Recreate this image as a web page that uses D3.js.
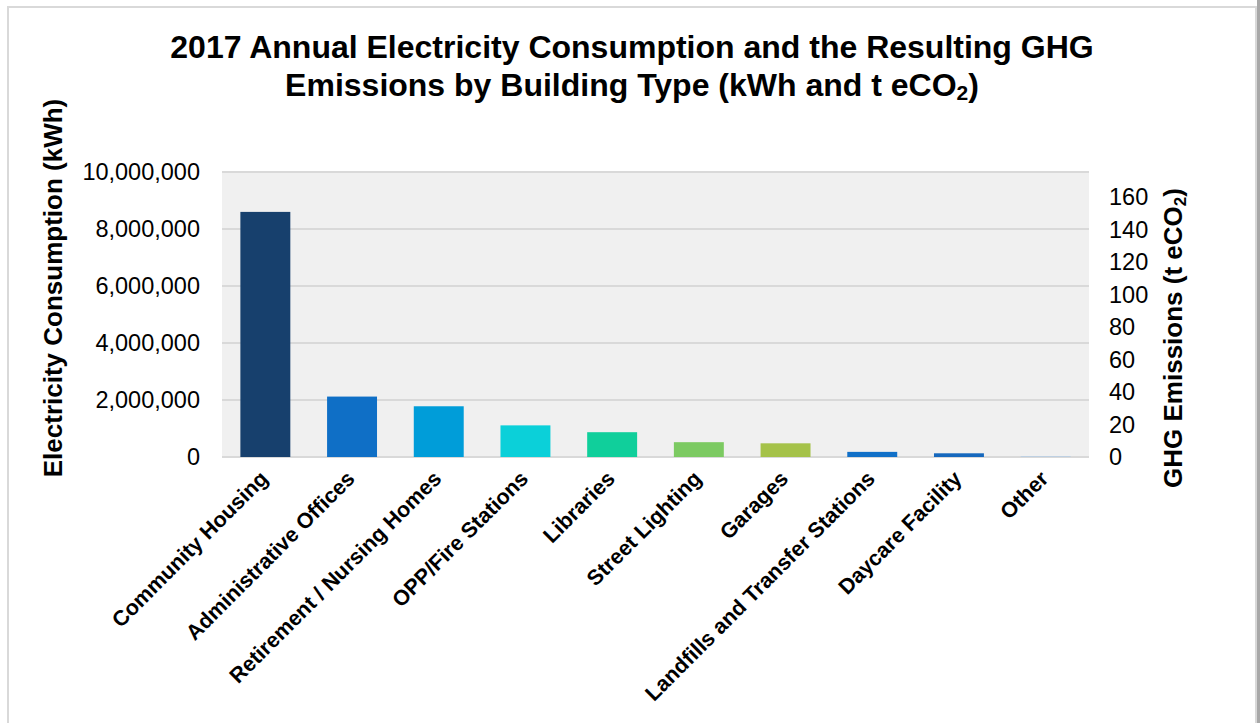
<!DOCTYPE html>
<html>
<head>
<meta charset="utf-8">
<script src="https://cdn.jsdelivr.net/npm/d3@7"></script>
<style>
  body { margin: 0; background: #fff; }
  svg { display: block; font-family: "Liberation Sans", Arial, sans-serif; }
</style>
</head>
<body>
<div id="chart"></div>
<script>
const categories = ["Community Housing", "Administrative Offices", "Retirement / Nursing Homes",
  "OPP/Fire Stations", "Libraries", "Street Lighting", "Garages",
  "Landfills and Transfer Stations", "Daycare Facility", "Other"];
const kwhValues = [8600000, 2120000, 1780000, 1110000, 870000, 520000, 480000, 180000, 130000, 20000];
const barColors = ["#17406d", "#0f6fc6", "#009dd9", "#0bd0d9", "#10cf9b", "#7cca62", "#a5c249",
  "#1170c8", "#1668bd", "#a9c8e8"];
const kwhTicks = [0, 2000000, 4000000, 6000000, 8000000, 10000000];
const ghgTicks = [0, 20, 40, 60, 80, 100, 120, 140, 160];

const w = 1260, h = 723;
const plot = { left: 222, right: 1089, top: 172, bottom: 457 };

const svg = d3.select("#chart").append("svg")
  .attr("width", w).attr("height", h);

// chart frame
svg.append("rect")
  .attr("x", 8).attr("y", 7).attr("width", 1248).attr("height", h + 10)
  .attr("fill", "#fff").attr("stroke", "#d9d9d9").attr("stroke-width", 2);
svg.append("rect").attr("x", 1257).attr("y", 0).attr("width", 3).attr("height", h).attr("fill", "#a8a8a8");

// title
const title = svg.append("text")
  .attr("text-anchor", "middle")
  .attr("font-size", 32).attr("font-weight", "bold").attr("fill", "#000");
title.append("tspan").attr("x", 632).attr("y", 58)
  .text("2017 Annual Electricity Consumption and the Resulting GHG");
const t2 = title.append("tspan").attr("x", 632).attr("y", 96)
  .text("Emissions by Building Type (kWh and t eCO");
t2.append("tspan").attr("font-size", 21).attr("dy", 4).text("2");
t2.append("tspan").attr("dy", -4).text(")");

const x = d3.scaleBand().domain(categories).range([plot.left, plot.right]).paddingInner(0.424).paddingOuter(0.212);
const y = d3.scaleLinear().domain([0, 10000000]).range([plot.bottom, plot.top]);
const y2 = d3.scaleLinear().domain([0, 160 * (plot.bottom - plot.top) / 260]).range([plot.bottom, plot.top]);

svg.append("rect")
  .attr("x", plot.left).attr("y", plot.top)
  .attr("width", plot.right - plot.left).attr("height", plot.bottom - plot.top)
  .attr("fill", "#f0f0f0");

// gridlines
svg.append("g")
  .selectAll("line").data(kwhTicks).join("line")
  .attr("x1", plot.left).attr("x2", plot.right)
  .attr("y1", d => y(d)).attr("y2", d => y(d))
  .attr("stroke", "#d9d9d9").attr("stroke-width", 2);

// bars
svg.append("g")
  .selectAll("rect").data(kwhValues).join("rect")
  .attr("x", (d, i) => x(categories[i]))
  .attr("width", x.bandwidth())
  .attr("y", d => y(d))
  .attr("height", d => y(0) - y(d))
  .attr("fill", (d, i) => barColors[i]);

// left axis
const leftAxis = svg.append("g")
  .attr("transform", `translate(${plot.left - 22},0)`)
  .call(d3.axisLeft(y).tickValues(kwhTicks).tickFormat(d3.format(",")).tickSize(0).tickPadding(0));
leftAxis.select(".domain").remove();
leftAxis.selectAll("text").attr("font-size", 23.5).attr("fill", "#000")
  .attr("font-family", "Liberation Sans, Arial, sans-serif");

// right axis
const rightAxis = svg.append("g")
  .attr("transform", `translate(${plot.right + 20},0)`)
  .call(d3.axisRight(y2).tickValues(ghgTicks).tickSize(0).tickPadding(0));
rightAxis.select(".domain").remove();
rightAxis.selectAll("text").attr("font-size", 23.5).attr("fill", "#000")
  .attr("font-family", "Liberation Sans, Arial, sans-serif");

// x labels
svg.append("g")
  .selectAll("text").data(categories).join("text")
  .attr("transform", d => `translate(${x(d) + x.bandwidth() / 2 + 4},${plot.bottom + 23}) rotate(-45)`)
  .attr("text-anchor", "end")
  .attr("font-size", 21.5).attr("font-weight", "bold").attr("fill", "#000")
  .text(d => d);

// axis titles
svg.append("text")
  .attr("transform", "translate(62,288) rotate(-90)")
  .attr("text-anchor", "middle")
  .attr("font-size", 26).attr("font-weight", "bold")
  .text("Electricity Consumption (kWh)");

const rt = svg.append("text")
  .attr("transform", "translate(1182,338) rotate(-90)")
  .attr("text-anchor", "middle")
  .attr("font-size", 26).attr("font-weight", "bold")
  .text("GHG Emissions (t eCO");
rt.append("tspan").attr("font-size", 17).attr("dy", 4).text("2");
rt.append("tspan").attr("dy", -4).text(")");
</script>
</body>
</html>
